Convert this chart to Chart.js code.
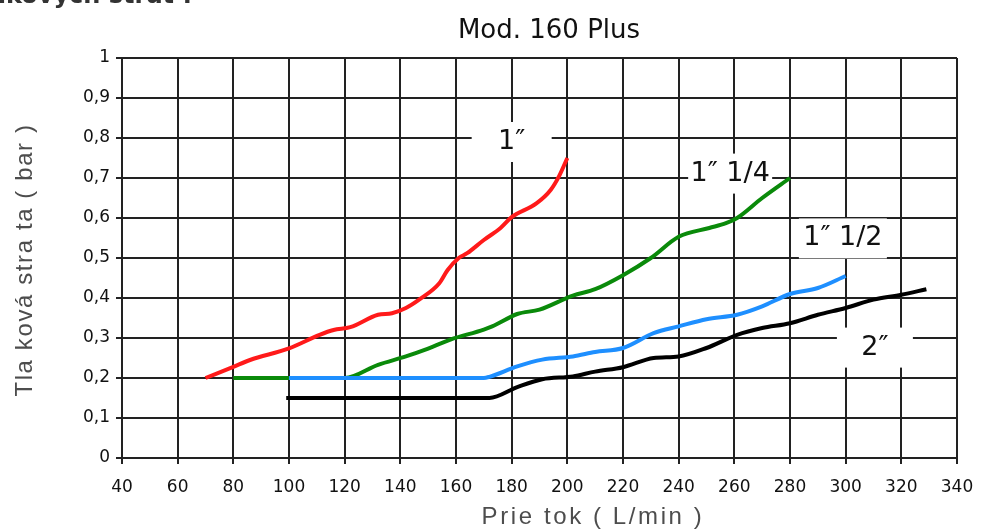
<!DOCTYPE html>
<html>
<head>
<meta charset="utf-8">
<script src="https://cdn.jsdelivr.net/npm/chart.js@4"></script>
<style>
html,body{margin:0;padding:0;background:#fff;}
#wrap{position:relative;width:990px;height:531px;}
</style>
</head>
<body>
<div id="wrap"><canvas id="c"></canvas></div>
<script>
// prietok (L/min) a tlaková strata (bar) podľa obrázka
var flow1=[70,80,86,100,111,116,122,132,137,142,147,154,157,161,164,170,176,180,189,194,197,200];
var loss1=[0.2,0.228,0.245,0.274,0.308,0.32,0.327,0.358,0.362,0.375,0.397,0.437,0.47,0.5,0.512,0.545,0.575,0.602,0.637,0.67,0.704,0.75];
var flow114=[80,100,120,132,142,149,158,170,173,182,190,202,210,220,230,240,251,257,261,270,280];
var loss114=[0.2,0.2,0.2,0.233,0.254,0.271,0.296,0.321,0.329,0.36,0.371,0.406,0.422,0.457,0.5,0.553,0.575,0.587,0.6,0.65,0.7];
var flow112=[100,170,172,182,191,202,210,220,231,240,250,261,270,280,290,300];
var loss112=[0.2,0.2,0.203,0.229,0.246,0.254,0.265,0.275,0.312,0.329,0.347,0.358,0.379,0.41,0.425,0.455];
var flow2=[99,172,182,191,202,210,220,231,240,250,261,270,280,290,300,310,320,329];
var loss2=[0.15,0.15,0.177,0.197,0.204,0.216,0.227,0.25,0.254,0.275,0.308,0.325,0.337,0.358,0.375,0.396,0.408,0.422];
var seriesNames=['1″','1″ 1/4','1″ 1/2','2″'];
var seriesColors=['#ff1a1a','#0a8a0a','#1e8fff','#000000'];
var seriesOrder=[0,2,1,0]; // modrá nad zelenou
// popisky kriviek (pozícia v dátových súradniciach)
var tagX=[180,258.5,299,310.5];
var tagY=[0.79,0.711,0.549,0.276];
var tagW=[80,84,88,76];

var xTicks=[40,60,80,100,120,140,160,180,200,220,240,260,280,300,320,340];
var yTicks=[0,0.1,0.2,0.3,0.4,0.5,0.6,0.7,0.8,0.9,1];

function pts(xs,ys){return xs.map(function(x,i){return{x:x,y:ys[i]};});}
function fmtY(v){return v===0?'0':v===1?'1':v.toFixed(1).replace('.',',');}

var FONT='"DejaVu Sans", Verdana, sans-serif';

var textPlugin={
  id:'texts',
  beforeDatasetsDraw:function(chart){
    var ctx=chart.ctx,xs=chart.scales.x,ys=chart.scales.y;
    ctx.save();
    seriesNames.forEach(function(n,i){
      var cx=xs.getPixelForValue(tagX[i]),cy=ys.getPixelForValue(tagY[i]);
      ctx.fillStyle='#fff';
      ctx.fillRect(cx-tagW[i]/2,cy-20,tagW[i],40);
      ctx.fillStyle='#111';
      ctx.font='27px '+FONT;
      ctx.textAlign='center';ctx.textBaseline='middle';
      ctx.fillText(n,cx,cy);
    });
    ctx.restore();
  },
  afterDraw:function(chart){
    var ctx=chart.ctx;
    ctx.save();
    ctx.fillStyle='#111';
    ctx.font='26px '+FONT;
    ctx.textAlign='center';ctx.textBaseline='alphabetic';
    ctx.fillText('Mod. 160 Plus',549,38);
    ctx.fillStyle='#333';
    ctx.font='bold 24px '+FONT;
    ctx.textAlign='right';
    ctx.fillText('Diagram tlakových strát :',192,3);
    ctx.fillStyle='#4d4d4d';
    ctx.font='24px "Liberation Sans", Arial, sans-serif';
    ctx.textAlign='center';
    ctx.letterSpacing='2.6px';
    ctx.fillText('Prie tok ( L/min )',593,524);
    ctx.letterSpacing='1.6px';
    ctx.translate(32,260);ctx.rotate(-Math.PI/2);
    ctx.fillText('Tla ková stra ta ( bar )',0,0);
    ctx.restore();
  }
};

new Chart(document.getElementById('c'),{
  type:'scatter',
  data:{datasets:[
    {label:seriesNames[0],data:pts(flow1,loss1)},
    {label:seriesNames[1],data:pts(flow114,loss114)},
    {label:seriesNames[2],data:pts(flow112,loss112)},
    {label:seriesNames[3],data:pts(flow2,loss2)}
  ].map(function(d,i){
    d.showLine=true;d.borderColor=seriesColors[i];d.backgroundColor=seriesColors[i];
    d.borderWidth=4;d.pointRadius=0;d.tension=0.3;d.cubicInterpolationMode='monotone';
    d.order=seriesOrder[i];
    return d;
  })},
  options:{
    responsive:true,maintainAspectRatio:false,animation:false,
    layout:{padding:{top:58,right:33,left:0,bottom:0}},
    plugins:{legend:{display:false},tooltip:{enabled:false}},
    scales:{
      x:{type:'linear',min:40,max:340,
        afterBuildTicks:function(s){s.ticks=xTicks.map(function(v){return{value:v};});},
        afterFit:function(s){s.height=73;},
        grid:{color:'#222',lineWidth:2,tickLength:6},
        border:{color:'#222',width:2},
        ticks:{color:'#111',padding:13,font:{family:FONT,size:17},maxRotation:0}},
      y:{min:0,max:1,
        afterBuildTicks:function(s){s.ticks=yTicks.map(function(v){return{value:v};});},
        afterFit:function(s){s.width=122;},
        grid:{color:'#222',lineWidth:2,tickLength:6},
        border:{color:'#222',width:2},
        ticks:{color:'#111',padding:6,font:{family:FONT,size:17},callback:function(v){return fmtY(v);}}}
    }
  },
  plugins:[textPlugin]
});
</script>
</body>
</html>
